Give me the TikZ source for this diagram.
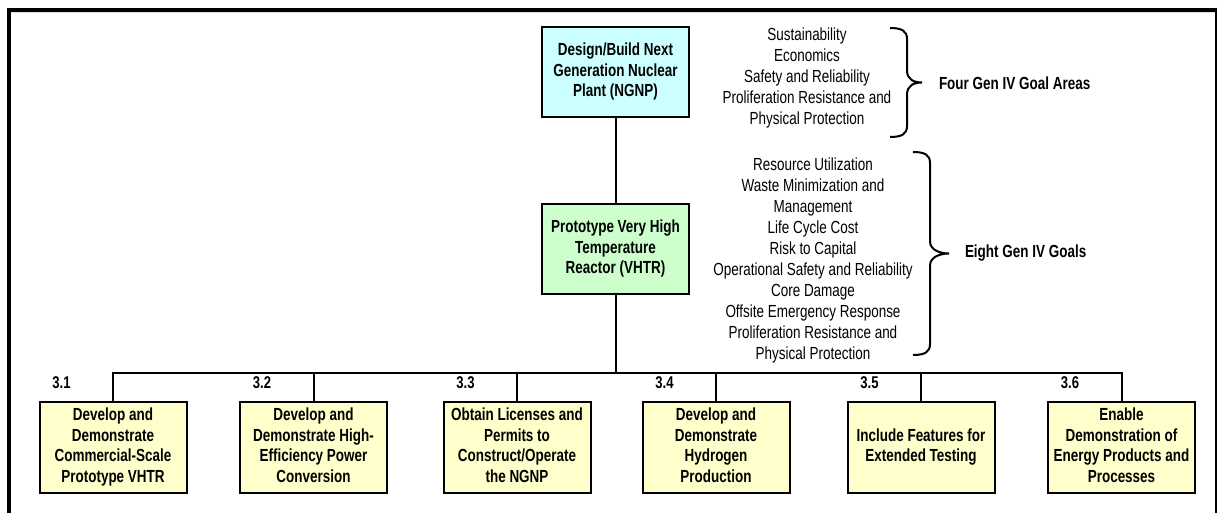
\documentclass[tikz,border=0pt]{standalone}
\usepackage{fontspec}
\newfontfamily\narrowsf[FakeStretch=0.77]{Liberation Sans}
\usetikzlibrary{calc}
\definecolor{ngnpColor}{HTML}{CCFFFF}
\definecolor{vhtrColor}{HTML}{CCFFCC}
\definecolor{taskColor}{HTML}{FFFFCC}
\setlength{\tabcolsep}{1pt}
\tikzset{
	goal box/.style={draw, minimum width=147pt, minimum height=90pt, inner sep=0pt, outer sep=0pt,
		font=\narrowsf\bfseries\fontsize{17.5}{20.5}\selectfont},
	task box/.style={goal box, fill=taskColor, minimum height=91pt},
	goal list/.style={inner sep=0pt, font=\narrowsf\fontsize{17.5}{21}\selectfont},
	goal head/.style={inner sep=0pt, anchor=west, font=\narrowsf\bfseries\fontsize{17.5}{21}\selectfont},
	task num/.style={inner sep=0pt, font=\narrowsf\bfseries\fontsize{17}{18}\selectfont},
	pics/curly/.style n args={2}{code={
			\draw (0,0) .. controls (12,0) and (17,3) .. (17,11)
			-- (17,#1/2-12) .. controls (17,#1/2-3) and (#2-8,#1/2) .. (#2,#1/2)
			.. controls (#2-8,#1/2) and (17,#1/2+3) .. (17,#1/2+12)
			-- (17,#1-11) .. controls (17,#1-3) and (12,#1) .. (0,#1);
	}}
}

\begin{document}
\begin{tikzpicture}[x=1pt, y=-1pt, line width=2pt]
	\useasboundingbox (0,0) rectangle (1218,513);
	% frame
	\draw[line width=4pt] (9,513) -- (9,10) -- (1216,10);
	\draw[gray!25, line width=1pt] (11,13) -- (1215,13);
	\draw[line width=1.5pt] (1216,8) -- (1216,513);

	\node[goal box, fill=ngnpColor] (ngnp) at (615.5,72) {\begin{tabular}{c} Design/Build Next \\ Generation Nuclear \\ Plant (NGNP) \end{tabular}};
	\node[goal box, fill=vhtrColor] (vhtr) at (615.5,249) {\begin{tabular}{c} Prototype Very High \\ Temperature \\ Reactor (VHTR) \end{tabular}};

	\node[task box] (t1) at (113,447.5) {\begin{tabular}{c} Develop and \\ Demonstrate \\ Commercial-Scale \\ Prototype VHTR \end{tabular}};
	\node[task box] (t2) at (313.5,447.5) {\begin{tabular}{c} Develop and \\ Demonstrate High- \\ Efficiency Power \\ Conversion \end{tabular}};
	\node[task box] (t3) at (517,447.5) {\begin{tabular}{c} Obtain Licenses and \\ Permits to \\ Construct/Operate \\ the NGNP \end{tabular}};
	\node[task box] (t4) at (716,447.5) {\begin{tabular}{c} Develop and \\ Demonstrate \\ Hydrogen \\ Production \end{tabular}};
	\node[task box] (t5) at (921,447.5) {\begin{tabular}{c} Include Features for \\ Extended Testing \end{tabular}};
	\node[task box] (t6) at (1121.5,447.5) {\begin{tabular}{c} Enable \\ Demonstration of \\ Energy Products and \\ Processes \end{tabular}};

	\foreach \t/\n in {t1/3.1, t2/3.2, t3/3.3, t4/3.4, t5/3.5, t6/3.6}
		\node[task num] (n\t) at ($(\t.north west)+(22,-19)$) {\n};

	\coordinate (bus) at (615.5,373);
	\path (ngnp.south) edge (vhtr.north);
	\draw (vhtr.south) -- (bus);
	\draw (t1.north) |- (bus) -| (t6.north);
	\foreach \t in {t2,t3,t4,t5}
		\draw (\t.north) -- (\t.north |- bus);

	\node[goal list] (areas) at (807,78) {\begin{tabular}{c} Sustainability \\ Economics \\ Safety and Reliability \\ Proliferation Resistance and \\ Physical Protection \end{tabular}};
	\node[goal list] (goals) at (813,261) {\begin{tabular}{c} Resource Utilization \\ Waste Minimization and \\ Management \\ Life Cycle Cost \\ Risk to Capital \\ Operational Safety and Reliability \\ Core Damage \\ Offsite Emergency Response \\ Proliferation Resistance and \\ Physical Protection \end{tabular}};

	\pic at (890,28) {curly={109}{32}};
	\pic at (913,152) {curly={203}{36}};
	\node[goal head] (areashead) at (938,83) {Four Gen IV Goal Areas};
	\node[goal head] (goalshead) at (964,253) {Eight Gen IV Goals};
\end{tikzpicture}
\end{document}
